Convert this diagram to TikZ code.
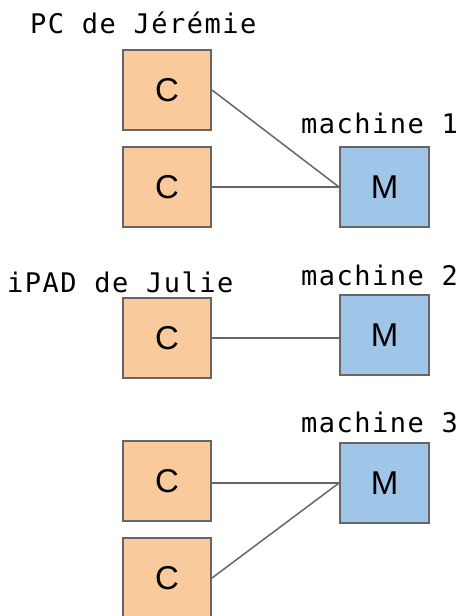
\documentclass[tikz,border=0pt]{standalone}
\usepackage{fontspec}
\setmainfont{Liberation Sans}
\newfontfamily\labelfont[LetterSpace=5.5]{DejaVu Sans Mono}
\definecolor{corange}{HTML}{F9CB9C}
\definecolor{cblue}{HTML}{9FC5E8}
\definecolor{cgray}{HTML}{666666}
\begin{document}
\begin{tikzpicture}[x=1pt,y=-1pt,
  cbox/.style={draw=cgray,line width=2pt,fill=corange,minimum width=88pt,minimum height=80pt,inner sep=0pt,font=\fontsize{33}{33}\selectfont},
  mbox/.style={draw=cgray,line width=2pt,fill=cblue,minimum width=89pt,minimum height=80pt,inner sep=0pt,font=\fontsize{33}{33}\selectfont},
  lbl/.style={anchor=base west,inner sep=0pt,font=\labelfont\fontsize{27}{27}\selectfont},
  link/.style={draw=cgray,line width=1.5pt}]
\path[use as bounding box] (0,0) rectangle (464,616);
\begin{scope}
\clip (0,0) rectangle (464,616);
\node[cbox] (c1) at (167,90) {C};
\node[cbox] (c2) at (167,187) {C};
\node[mbox] (m1) at (384.5,187) {M};
\node[cbox] (c3) at (167,338) {C};
\node[mbox] (m2) at (384.5,335) {M};
\node[cbox] (c4) at (167,481) {C};
\node[cbox] (c5) at (167,578) {C};
\node[mbox] (m3) at (384.5,483) {M};
\draw[link] (c1.east) -- (m1.west);
\draw[link] (c2.east) -- (m1.west);
\draw[link] (c3.east) -- (c3.east -| m2.west);
\draw[link] (m3.west -| c4.east) -- (m3.west);
\draw[link] (c5.east) -- (m3.west);
\end{scope}
\node[lbl] (l1) at (30,33) {PC de Jérémie};
\node[lbl] (l2) at (301,133) {machine 1};
\node[lbl] (l3) at (7,292) {iPAD de Julie};
\node[lbl] (l4) at (301,285) {machine 2};
\node[lbl] (l5) at (301,432) {machine 3};
\end{tikzpicture}
\end{document}
